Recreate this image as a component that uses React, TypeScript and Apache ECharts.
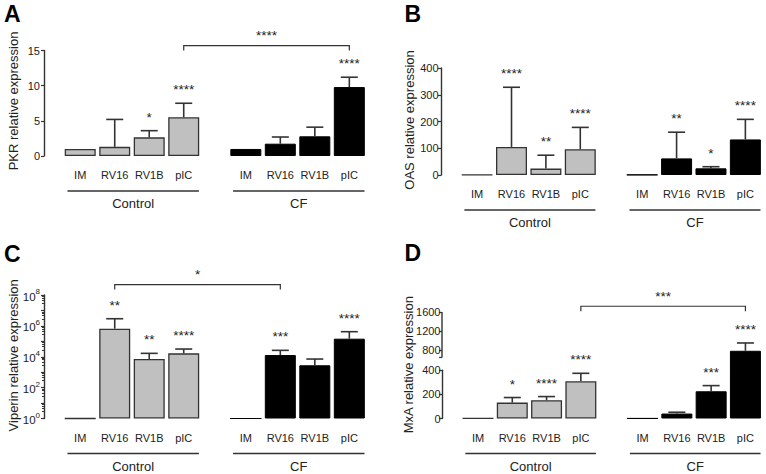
import React, { useEffect, useRef } from 'react';
import * as echarts from 'echarts';

// ---------- data ----------
const categories = ['IM', 'RV16', 'RV1B', 'pIC'];
const groups = ['Control', 'CF'];

// A — PKR (mean, top of error bar)
const pkrControl = [1.0, 1.3, 2.65, 5.5];
const pkrControlErr = [1.0, 5.2, 3.6, 7.5];
const pkrCF = [1.0, 1.75, 2.8, 9.8];
const pkrCFErr = [1.0, 2.7, 4.1, 11.2];
const pkrStarsControl = ['', '', '*', '****'];
const pkrStarsCF = ['', '', '', '****'];
const pkrTicks = [0, 5, 10, 15];
const pkrBracket = { from: 3, to: 7, level: 15.7, label: '****' };

// B — OAS
const oasControl = [1, 105, 24, 96];
const oasControlErr = [1, 328, 74, 178];
const oasCF = [1, 62, 25, 133];
const oasCFErr = [1, 160, 31, 208];
const oasStarsControl = ['', '****', '**', '****'];
const oasStarsCF = ['', '**', '*', '****'];
const oasTicks = [0, 100, 200, 300, 400];

// C — Viperin (log scale)
const vipControl = [1, 660000, 7100, 16600];
const vipControlErr = [1, 2900000, 16600, 31600];
const vipCF = [1, 12900, 2800, 148000];
const vipCFErr = [1, 26000, 7100, 420000];
const vipStarsControl = ['', '**', '**', '****'];
const vipStarsCF = ['', '***', '', '****'];
const vipTicks = [1, 1e8];
const vipBracket = { from: 1, to: 5, level: 4.7e8, label: '*' };

// D — MxA (broken axis)
const mxaControl = [1, 132, 152, 309];
const mxaControlErr = [1, 174, 182, 375];
const mxaCF = [1, 41, 226, 790];
const mxaCFErr = [1, 52, 273, 953];
const mxaStarsControl = ['', '*', '****', '****'];
const mxaStarsCF = ['', '', '***', '****'];
const mxaLowerTicks = [0, 200, 400];
const mxaUpperTicks = [800, 1200, 1600];
const mxaBracket = { from: 3, to: 7, level: 1720, label: '***' };

// ---------- layout / style ----------
const FONT = '"Liberation Sans", Arial, Helvetica, sans-serif';
const INK = '#222';
const AXIS = '#333';
const GRAY = '#c0c0c0';
const S = 34.5;
const XMIN = -1.05;
const XMAX = 8.4;
const GW = (XMAX - XMIN) * S;
const GROUP_OFFSET = 4.8;
const BAR_W = 31;
const CAP = 8.5;
const UPPER_MIN = 382;
const BREAK_END = 650;
const STAR_SIZE = 13.5;

const xOf = (g: number, i: number) => g * GROUP_OFFSET + i;
const plain = (v: number) => String(v);

const axisLine = { show: true, onZero: false, lineStyle: { color: AXIS, width: 1.4 } };
const axisTick = { show: true, length: 3, lineStyle: { color: AXIS, width: 1.2 } };
const labelL = { color: INK, fontSize: 11, margin: 4, fontFamily: FONT, formatter: plain };
const labelR = { color: INK, fontSize: 11, margin: 2.5, fontFamily: FONT, formatter: plain };
const labelD = { color: INK, fontSize: 11, margin: 1.5, fontFamily: FONT, formatter: plain };

function barSeries(axis: number, control: number[], cf: number[]) {
  const data: any[] = [];
  [control, cf].forEach((vals, g) =>
    vals.forEach((v, i) =>
      data.push({
        value: [xOf(g, i), v],
        itemStyle:
          g === 0
            ? { color: GRAY, borderColor: AXIS, borderWidth: 1.3 }
            : { color: '#000', borderColor: '#000', borderWidth: 1 },
      })
    )
  );
  return { type: 'bar', xAxisIndex: axis, yAxisIndex: axis, barWidth: BAR_W, data, silent: true, clip: true, z: 2 };
}

function errSeries(
  axis: number,
  control: number[], controlErr: number[], cf: number[], cfErr: number[],
  starsC: string[], starsF: string[],
  keep: (e: number) => boolean = () => true
) {
  const data: number[][] = [];
  const stars: string[] = [];
  groups.forEach((_, g) =>
    categories.forEach((_, i) => {
      data.push([xOf(g, i), g ? cf[i] : control[i], g ? cfErr[i] : controlErr[i]]);
      stars.push(g ? starsF[i] : starsC[i]);
    })
  );
  return {
    type: 'custom', xAxisIndex: axis, yAxisIndex: axis, data, silent: true, z: 3, clip: false,
    renderItem: (params: any, api: any) => {
      const x = api.value(0), m = api.value(1), e = api.value(2);
      const children: any[] = [];
      if (!keep(e)) return { type: 'group', children };
      const p0 = api.coord([x, m]);
      const p1 = api.coord([x, e]);
      if (e > m) {
        children.push({ type: 'line', shape: { x1: p0[0], y1: p0[1], x2: p1[0], y2: p1[1] }, style: { stroke: AXIS, lineWidth: 1.6 } });
        children.push({ type: 'line', shape: { x1: p1[0] - CAP, y1: p1[1], x2: p1[0] + CAP, y2: p1[1] }, style: { stroke: AXIS, lineWidth: 1.6 } });
      }
      const st = stars[params.dataIndex];
      if (st) {
        children.push({ type: 'text', x: p1[0], y: p1[1] - 6.5, style: { text: st, align: 'center', verticalAlign: 'bottom', fontSize: STAR_SIZE, fontFamily: FONT, fill: INK } });
      }
      return { type: 'group', children };
    },
  };
}

function annoSeries(axis: number, baseVal: number, showLabels: boolean, bracket: any, extra?: (api: any, ch: any[]) => void) {
  return {
    type: 'custom', xAxisIndex: axis, yAxisIndex: axis, data: [[0, baseVal]], silent: true, z: 4, clip: false,
    renderItem: (_p: any, api: any) => {
      const children: any[] = [];
      if (showLabels) {
        const y0 = api.coord([0, baseVal])[1];
        groups.forEach((name, g) => {
          categories.forEach((c, i) => {
            const px = api.coord([xOf(g, i), baseVal])[0];
            children.push({ type: 'text', x: px, y: y0 + 19, style: { text: c, align: 'center', verticalAlign: 'middle', fontSize: 11, fontFamily: FONT, fill: INK } });
          });
          const xa = api.coord([xOf(g, 0) - 0.37, baseVal])[0];
          const xb = api.coord([xOf(g, categories.length - 1) + 0.44, baseVal])[0];
          children.push({ type: 'line', shape: { x1: xa, y1: y0 + 35, x2: xb, y2: y0 + 35 }, style: { stroke: AXIS, lineWidth: 1.3 } });
          children.push({ type: 'text', x: (xa + xb) / 2, y: y0 + 47.5, style: { text: name, align: 'center', verticalAlign: 'middle', fontSize: 13, fontFamily: FONT, fill: INK } });
        });
      }
      if (bracket) {
        const gA = Math.floor(bracket.from / categories.length), iA = bracket.from % categories.length;
        const gB = Math.floor(bracket.to / categories.length), iB = bracket.to % categories.length;
        const p1 = api.coord([xOf(gA, iA), bracket.level]);
        const p2 = api.coord([xOf(gB, iB), bracket.level]);
        children.push({ type: 'polyline', shape: { points: [[p1[0], p1[1] + 5], [p1[0], p1[1]], [p2[0], p2[1]], [p2[0], p2[1] + 5]] }, style: { stroke: AXIS, lineWidth: 1.2, fill: 'none' } });
        children.push({ type: 'text', x: (p1[0] + p2[0]) / 2, y: p1[1] - 3, style: { text: bracket.label, align: 'center', verticalAlign: 'bottom', fontSize: STAR_SIZE, fontFamily: FONT, fill: INK } });
      }
      if (extra) extra(api, children);
      return { type: 'group', children };
    },
  };
}

function buildOption() {
  const grids = [
    { left: 44, top: 50.5, width: GW, height: 105.5 },
    { left: 441, top: 68, width: GW, height: 107 },
    { left: 44, top: 295, width: GW, height: 123.5 },
    { left: 442, top: 370.3, width: GW, height: 48.2 },
    { left: 442, top: 312, width: GW, height: 58.3 },
  ];
  const xAxis = grids.map((_, i) => ({ type: 'value', gridIndex: i, min: XMIN, max: XMAX, show: false }));
  const yAxis: any[] = [
    { type: 'value', gridIndex: 0, min: pkrTicks[0], max: pkrTicks[pkrTicks.length - 1], interval: pkrTicks[1] - pkrTicks[0], axisLine, axisTick, axisLabel: labelL, splitLine: { show: false } },
    { type: 'value', gridIndex: 1, min: oasTicks[0], max: oasTicks[oasTicks.length - 1], interval: oasTicks[1] - oasTicks[0], axisLine, axisTick, axisLabel: labelR, splitLine: { show: false } },
    {
      type: 'log', logBase: 10, gridIndex: 2, min: vipTicks[0], max: vipTicks[1], axisLine,
      axisTick,
      minorTick: { show: true, splitNumber: 5, length: 2, lineStyle: { color: AXIS, width: 1 } },
      axisLabel: {
        ...labelL,
        formatter: (v: number) => {
          const e = Math.round(Math.log10(v));
          return e % 2 ? '' : `{b|10}{s|${e}}`;
        },
        rich: {
          b: { fontSize: 11.5, lineHeight: 15, fontFamily: FONT, color: INK, verticalAlign: 'bottom' },
          s: { fontSize: 8, lineHeight: 9, fontFamily: FONT, color: INK, verticalAlign: 'top' },
        },
      },
      splitLine: { show: false },
    },
    { type: 'value', gridIndex: 3, min: mxaLowerTicks[0], max: mxaLowerTicks[mxaLowerTicks.length - 1], interval: mxaLowerTicks[1] - mxaLowerTicks[0], axisLine, axisTick, axisLabel: labelD, splitLine: { show: false } },
    {
      type: 'value', gridIndex: 4, min: UPPER_MIN, max: mxaUpperTicks[mxaUpperTicks.length - 1],
      axisLine: { show: false, onZero: false },
      axisTick: { ...axisTick, customValues: mxaUpperTicks },
      axisLabel: { ...labelD, customValues: mxaUpperTicks },
      splitLine: { show: false },
    },
  ];

  const series: any[] = [
    barSeries(0, pkrControl, pkrCF),
    errSeries(0, pkrControl, pkrControlErr, pkrCF, pkrCFErr, pkrStarsControl, pkrStarsCF),
    annoSeries(0, pkrTicks[0], true, pkrBracket),

    barSeries(1, oasControl, oasCF),
    errSeries(1, oasControl, oasControlErr, oasCF, oasCFErr, oasStarsControl, oasStarsCF),
    annoSeries(1, oasTicks[0], true, null),

    barSeries(2, vipControl, vipCF),
    errSeries(2, vipControl, vipControlErr, vipCF, vipCFErr, vipStarsControl, vipStarsCF),
    annoSeries(2, vipTicks[0], true, vipBracket),

    barSeries(3, mxaControl, mxaCF),
    errSeries(3, mxaControl, mxaControlErr, mxaCF, mxaCFErr, mxaStarsControl, mxaStarsCF, (e) => e <= mxaLowerTicks[mxaLowerTicks.length - 1]),
    annoSeries(3, mxaLowerTicks[0], true, null),

    barSeries(4, mxaControl, mxaCF),
    errSeries(4, mxaControl, mxaControlErr, mxaCF, mxaCFErr, mxaStarsControl, mxaStarsCF, (e) => e > mxaLowerTicks[mxaLowerTicks.length - 1]),
    annoSeries(4, UPPER_MIN, false, mxaBracket, (api, ch) => {
      const t = api.coord([XMIN, mxaUpperTicks[mxaUpperTicks.length - 1]]);
      const b = api.coord([XMIN, BREAK_END]);
      ch.push({ type: 'line', shape: { x1: t[0], y1: t[1], x2: b[0], y2: b[1] }, style: { stroke: AXIS, lineWidth: 1.4 } });
      ch.push({ type: 'line', shape: { x1: b[0] - 3, y1: b[1], x2: b[0], y2: b[1] }, style: { stroke: AXIS, lineWidth: 1.2 } });
    }),
  ];

  const letter = (t: string, x: number, y: number) => ({
    type: 'text', x, y, silent: true,
    style: { text: t, fontSize: 23, fontWeight: 'bold', fontFamily: FONT, fill: '#000', verticalAlign: 'middle' },
  });
  const ytitle = (t: string, x: number, y: number) => ({
    type: 'text', x, y, rotation: Math.PI / 2, silent: true,
    style: { text: t, fontSize: 13, fontFamily: FONT, fill: INK, align: 'center', verticalAlign: 'middle' },
  });

  return {
    animation: false,
    backgroundColor: '#fff',
    textStyle: { fontFamily: FONT },
    grid: grids.map((g) => ({ ...g, containLabel: false })),
    xAxis,
    yAxis,
    series,
    graphic: [
      letter('A', 4, 13.5),
      letter('B', 404.5, 14),
      letter('C', 4, 253.6),
      letter('D', 404.5, 253.3),
      ytitle('PKR relative expression', 13, 101),
      ytitle('OAS relative expression', 409.5, 120),
      ytitle('Viperin relative expression', 13, 355.3),
      ytitle('MxA relative expression', 408.5, 364.7),
    ],
  };
}

export default function App() {
  const ref = useRef<HTMLDivElement>(null);
  useEffect(() => {
    const chart = echarts.init(ref.current!, null, { renderer: 'svg', width: 766, height: 474 });
    chart.setOption(buildOption() as any);
    return () => chart.dispose();
  }, []);
  return (
    <div
      ref={ref}
      style={{ position: 'fixed', left: 0, top: 0, width: 766, height: 474, background: '#fff' }}
    />
  );
}
